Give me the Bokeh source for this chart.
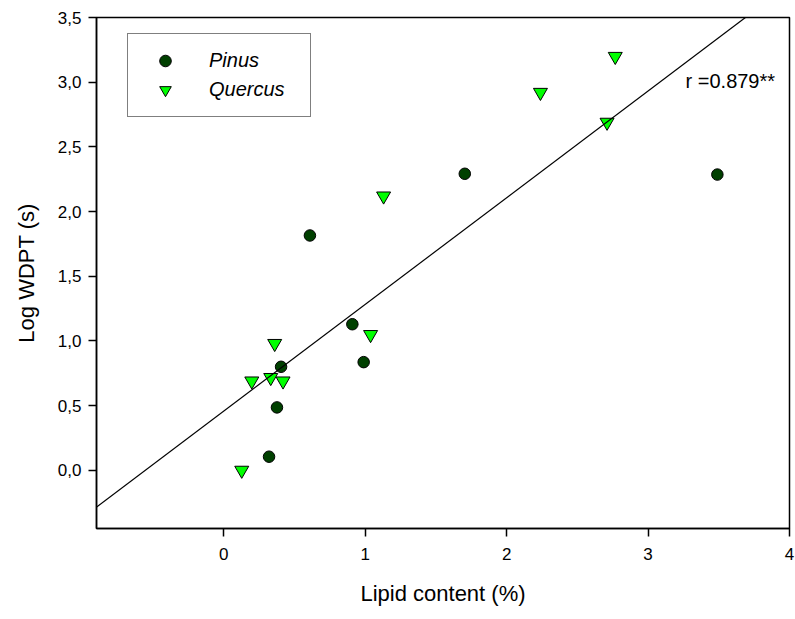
from bokeh.plotting import figure
from bokeh.models import Range1d, FixedTicker, Legend, LegendItem, Label, Slope
from bokeh.embed import file_html
from bokeh.resources import INLINE

# ---- data ----
pinus_x = [0.32, 0.376, 0.405, 0.609, 0.909, 0.989, 1.704, 3.49]
pinus_y = [0.105, 0.486, 0.80, 1.815, 1.129, 0.836, 2.292, 2.286]

quercus_x = [0.127, 0.198, 0.332, 0.36, 0.419, 1.038, 1.13, 2.239, 2.71, 2.768]
quercus_y = [0.0, 0.69, 0.717, 0.98, 0.69, 1.049, 2.12, 2.921, 2.69, 3.199]

fit_slope = 0.825
fit_intercept = 0.457
r_text = "r =0.879**"

x_ticks = [0, 1, 2, 3, 4]
x_tick_labels = ["0", "1", "2", "3", "4"]
y_ticks = [0.0, 0.5, 1.0, 1.5, 2.0, 2.5, 3.0, 3.5]
y_tick_labels = ["0,0", "0,5", "1,0", "1,5", "2,0", "2,5", "3,0", "3,5"]

FONT = "Liberation Sans"

p = figure(width=795, height=619, output_backend="svg", toolbar_location=None,
           x_range=Range1d(-0.9, 4.0), y_range=Range1d(-0.45, 3.5),
           min_border_left=96, min_border_right=6, min_border_top=17, min_border_bottom=91)

p.xgrid.visible = False
p.ygrid.visible = False
p.outline_line_color = "black"
p.outline_line_width = 1.5
p.background_fill_color = "white"
p.border_fill_color = "white"

for ax in (p.xaxis[0], p.yaxis[0]):
    ax.axis_line_color = "black"
    ax.axis_line_width = 1.5
    ax.major_tick_line_color = "black"
    ax.major_tick_line_width = 1.5
    ax.major_tick_in = 0
    ax.major_tick_out = 8
    ax.minor_tick_line_color = None
    ax.major_label_text_font = FONT
    ax.major_label_text_font_size = "17px"
    ax.major_label_text_color = "black"
    ax.axis_label_text_font = FONT
    ax.axis_label_text_font_size = "22px"
    ax.axis_label_text_font_style = "normal"
    ax.axis_label_text_color = "black"

p.xaxis.ticker = FixedTicker(ticks=x_ticks)
p.xaxis.major_label_overrides = {t: l for t, l in zip(x_ticks, x_tick_labels)}
p.yaxis.ticker = FixedTicker(ticks=y_ticks)
p.yaxis.major_label_overrides = {t: l for t, l in zip(y_ticks, y_tick_labels)}
p.xaxis.axis_label = "Lipid content (%)"
p.yaxis.axis_label = "Log WDPT (s)"
p.xaxis.major_label_standoff = 11
p.xaxis.axis_label_standoff = 18
p.yaxis.major_label_standoff = 7
p.yaxis.axis_label_standoff = 16

p.add_layout(Slope(gradient=fit_slope, y_intercept=fit_intercept,
                   line_color="black", line_width=1.2))

r1 = p.scatter(pinus_x, pinus_y, marker="circle", size=11.5,
               fill_color="#004000", line_color="black", line_width=1)
r2 = p.scatter(quercus_x, quercus_y, marker="inverted_triangle", size=14,
               fill_color="#00FF00", line_color="black", line_width=1)

legend = Legend(items=[LegendItem(label="Pinus", renderers=[r1]),
                       LegendItem(label="Quercus", renderers=[r2])],
                location=(31, 411), orientation="vertical",
                padding=12, spacing=0, margin=0,
                glyph_width=50, glyph_height=29, label_height=29,
                label_width=89, label_standoff=19,
                label_text_font=FONT, label_text_font_size="20px",
                label_text_font_style="italic", label_text_color="black",
                border_line_color="black", border_line_width=1,
                background_fill_color="white", background_fill_alpha=1)
p.add_layout(legend, "center")

p.add_layout(Label(x=3.265, y=3.01, text=r_text, text_font=FONT,
                   text_font_size="20px", text_baseline="middle",
                   text_align="left", text_color="black"))

open("out.html", "w").write(file_html(p, INLINE))
